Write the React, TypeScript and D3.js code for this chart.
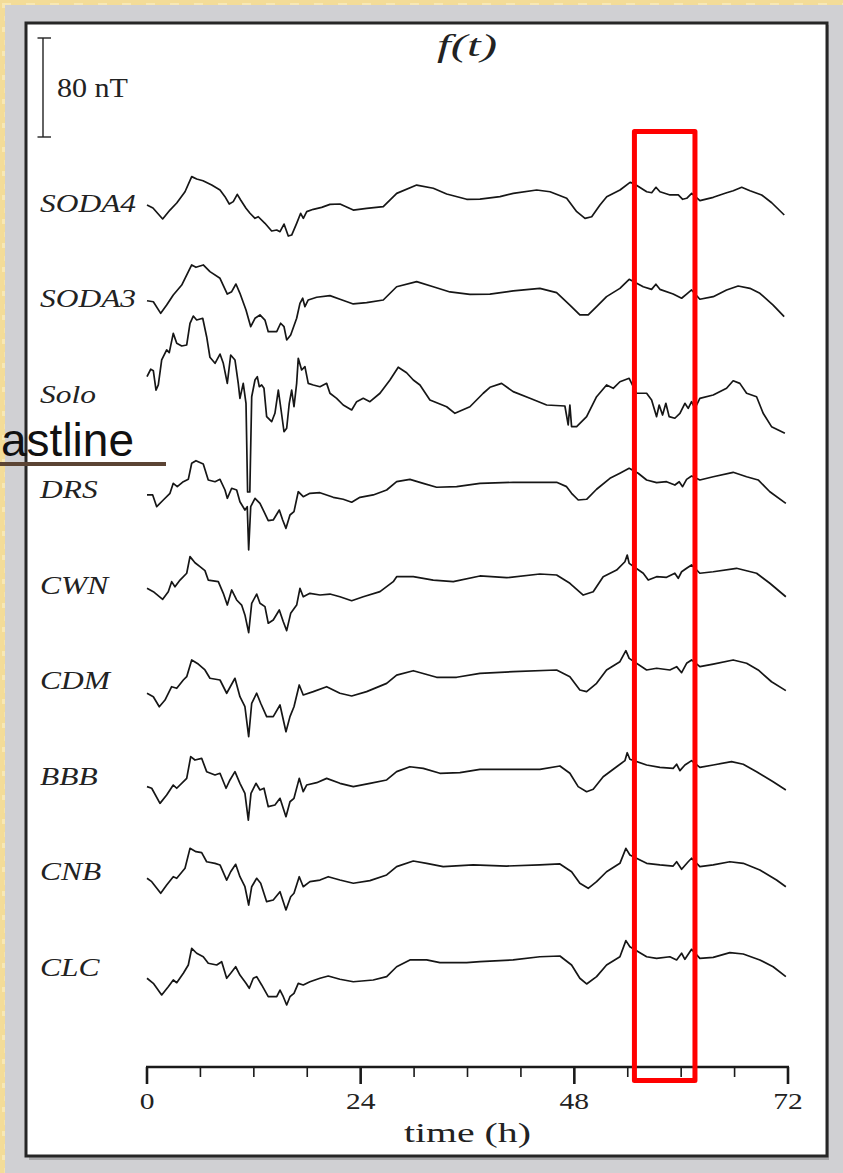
import React from "react";
import * as d3 from "d3";

type Pt = [number, number]; // [hours, nT]

// Station names, top to bottom
const stations = ["SODA4", "SODA3", "Solo", "DRS", "CWN", "CDM", "BBB", "CNB", "CLC"];

const soda4: Pt[] = [[0,-1.6],[0.67,-4],[1.76,-12.9],[2.58,-5.7],[3.34,0],[4.27,9.1],[5.02,21.3],[5.58,19.4],[6.29,18],[7.27,14.5],[8.2,10.5],[8.76,5.1],[9.24,-0.8],[9.69,1.1],[10.14,7],[10.52,2.4],[11.12,-4.3],[11.57,-8.3],[12.13,-12.4],[12.5,-11.1],[13.25,-16.4],[14,-22.6],[14.57,-21.8],[14.94,-23.2],[15.39,-17],[15.87,-26.7],[16.25,-25.9],[16.81,-16.4],[17.26,-8.3],[17.56,-12.4],[17.94,-7],[18.68,-5.1],[19.62,-3.5],[20.55,-1.1],[21.68,-0.8],[23.17,-5.7],[24.68,-4.3],[26.54,-3],[28.05,7.8],[30.29,14.5],[32.16,11.9],[33.66,7.3],[35.91,3],[37.4,3.2],[39.65,5.1],[41.14,7.8],[43.77,10.5],[45.27,9.1],[47.14,3.8],[48.27,-7],[49.2,-12.4],[49.95,-11.1],[50.88,-1.6],[51.64,5.1],[53.13,10.5],[54.26,16.7],[54.62,15.9],[56.13,9.1],[56.69,8.3],[57.17,12.7],[57.62,9.1],[58.75,6.5],[59.68,6.5],[60.17,3],[60.62,3.8],[61.18,7.8],[62.11,1.9],[63.61,4.6],[65.11,8.3],[65.85,9.9],[66.8,12.7],[67.73,9.9],[69.04,6.5],[70.17,0.2],[71.58,-9.7]];

const soda3: Pt[] = [[0,-1.8],[0.71,-2.6],[1.54,-12],[2.21,-5.3],[2.95,2.8],[3.9,10.9],[5.02,27.1],[5.5,25.2],[6.32,27.1],[7.07,21.7],[8.2,16.3],[9.02,3.6],[9.51,5.5],[9.99,11.7],[10.44,4.2],[11.12,-9.3],[11.65,-22.8],[12.13,-16],[12.69,-13.3],[13.25,-17.4],[13.62,-26.8],[14.57,-26.8],[15.01,-20],[15.39,-22.8],[15.69,-33.5],[16.14,-29.5],[16.81,-16],[17.18,-3.9],[17.49,0.2],[17.74,-6.6],[18.11,-1.2],[19.06,1],[20.55,2.3],[21.68,-0.6],[23.17,-4.4],[24.67,-3.4],[26.54,-1.2],[28.04,9.5],[30.29,13.6],[32.15,9.5],[34.03,5.3],[36.27,3.4],[38.52,3.6],[41.14,6.1],[44.13,8.2],[46.01,4.7],[47.5,-5.3],[48.62,-13.3],[49.56,-13.3],[50.5,-6.6],[51.62,1.5],[53.12,8.2],[54.16,15.5],[55.74,9.5],[56.68,7.4],[57.16,11.5],[57.61,7.4],[59.1,3.6],[60.05,0.2],[60.61,3.6],[61.17,6.9],[62.1,-0.6],[63.6,1.5],[65.1,6.9],[66.4,10.1],[67.72,8.2],[68.84,4.2],[70.33,-5.3],[71.57,-14.7]];

const solo: Pt[] = [[0,14],[0.42,20],[0.71,18.8],[1.01,3.2],[1.27,7.3],[1.65,27.5],[2.21,35.6],[2.5,33.4],[2.95,49],[3.34,41],[3.9,38.8],[4.46,39.6],[4.83,57.1],[5.2,63],[5.58,59.8],[6.26,61.2],[6.7,46.3],[7.07,29.7],[7.64,24.8],[8.2,32.3],[8.57,24.8],[9.02,8.6],[9.4,31.5],[9.88,27.5],[10.25,8.6],[10.44,-3.5],[10.81,8.6],[11.12,-7.5],[11.3,-79.2],[11.55,-79.2],[11.76,-2.2],[12.13,11.3],[12.39,14],[12.61,5.9],[12.88,7.3],[13.14,4.6],[13.44,-18.3],[14,-22.4],[14.37,-15.6],[14.75,3.2],[15.01,-10.3],[15.39,-30.5],[15.69,-27.7],[15.98,-7.5],[16.25,3.2],[16.51,-10.3],[16.81,8.6],[16.99,28.8],[17.37,19.4],[17.74,22.1],[18.11,8.6],[18.68,7.3],[19.43,5.9],[20.18,8.6],[20.55,0.6],[21.3,-3.5],[22.04,-8.9],[22.99,-12.9],[23.55,-6.2],[24.29,-3.5],[25.04,-6.2],[26.17,0.6],[27.29,11.3],[28.22,21.6],[29.16,17.2],[29.91,11.3],[30.66,7.3],[31.78,-4.8],[33.66,-10.3],[34.59,-15.6],[36.27,-10.3],[37.77,0.6],[38.52,5.4],[39.83,8.6],[41.13,1.9],[43.01,-3.5],[44.89,-8.9],[46.94,-9.7],[47.31,-25],[47.5,-8.9],[47.69,-26.4],[48.26,-26.4],[49.38,-18.3],[50.5,-2.2],[51.62,7.3],[52.37,4.6],[53.12,9.9],[54.16,12.7],[54.99,0.6],[56.12,0.6],[56.68,-4.8],[57.24,-18.3],[57.53,-8.9],[57.91,-17],[58.28,-7.5],[58.65,-18.3],[59.29,-19.6],[59.86,-15.6],[60.42,-7.5],[60.79,-11.6],[61.17,-6.2],[61.54,-11.6],[62.1,-3.5],[63.6,-0.8],[65.1,4.6],[65.84,10.7],[66.59,8.6],[67.35,0.6],[68.47,-2.2],[69.21,-15.6],[70.15,-26.4],[70.9,-29.1],[71.65,-31.7]];

const drs: Pt[] = [[0,-4.4],[0.64,-4.4],[1.09,-13.9],[1.83,-8.5],[2.58,-3.1],[2.95,5],[3.4,2.3],[4.08,6.3],[4.64,8.2],[5.02,21.2],[5.5,23.3],[6.32,20.6],[6.88,7.7],[7.64,6.3],[8.2,8.2],[8.76,-0.4],[9.02,-7.1],[9.51,1],[10.07,-0.4],[10.44,-9.9],[11,-16.6],[11.26,-13.9],[11.42,-48.9],[11.65,-13.9],[12.13,-7.1],[12.69,-11.2],[13.14,-17.9],[13.62,-25.2],[14.18,-24.6],[14.86,-16.6],[15.24,-24.6],[15.61,-31.4],[16.06,-20.6],[16.51,-17.9],[16.99,-1.8],[17.55,-5.8],[18.3,-3.1],[19.43,-2.6],[20.92,-6.3],[22.04,-7.9],[22.99,-10.3],[23.92,-6.3],[25.41,-4.4],[26.92,-0.4],[28.04,6.3],[29.53,8.2],[31.03,5],[32.53,1.8],[34.78,2.3],[37.4,5],[41.13,5.8],[46.01,5.8],[47.13,2.3],[47.69,-3.1],[48.44,-8.5],[49.38,-7.9],[50.5,0.2],[52,9],[53.12,13.1],[54.16,17.1],[55.17,13.1],[56.12,7.7],[57.24,5.5],[58.36,6.3],[59.29,3.6],[59.78,6.3],[60.16,2.3],[60.61,8.2],[61.17,10.9],[62.1,7.7],[63.6,10.3],[65.84,13.9],[67.35,10.3],[68.65,7.7],[69.96,-1.8],[71.76,-11.2]];

const cwn: Pt[] = [[0,-2.7],[0.71,-5.4],[1.76,-11.6],[2.39,-5.4],[2.77,2.7],[3.14,-1.4],[3.71,4],[4.46,9.5],[4.83,22.9],[5.39,18],[5.95,14.8],[6.51,11.6],[6.88,4],[8.01,2.7],[8.57,-6.7],[9.02,-16.2],[9.51,-4],[10.07,-12.1],[10.63,-16.2],[11,-24.2],[11.42,-38.5],[11.76,-14.8],[12.32,-7.3],[12.69,-14.8],[13.25,-17.5],[13.62,-30.9],[14.18,-28.3],[14.86,-20.2],[15.31,-29.7],[15.69,-36.9],[16.14,-22.9],[16.81,-16.2],[17.18,-2.7],[17.55,-9.5],[18.3,-6.7],[19.43,-8.1],[20.55,-7.3],[21.67,-9.5],[22.99,-12.7],[24.29,-9.5],[26.17,-5.4],[27.66,2.7],[28.04,6.7],[29.91,6.7],[32.15,4],[34.4,2.7],[37.4,7.3],[40.39,5.9],[44.13,8.9],[46.01,8.1],[47.5,1.4],[49,-8.1],[50.12,-5.4],[51.24,6.7],[52.75,12.1],[53.68,18.8],[53.94,24.2],[54.16,17.5],[55.74,9.5],[56.3,4],[57.24,6.7],[58.36,6.2],[59.29,9.5],[59.67,5.4],[60.05,10.7],[60.61,13.5],[61.17,16.2],[62.1,9.5],[63.6,10.7],[66.22,13.5],[68.47,9.5],[69.96,1.4],[71.76,-9.5]];

const cdm: Pt[] = [[0,-10.3],[0.71,-13.1],[1.38,-21.2],[2.02,-15.8],[2.77,-5],[3.34,-6.3],[4.08,0.4],[4.46,3.1],[5.02,16.6],[5.76,13.3],[6.51,8.5],[7.07,1.8],[8.2,0.4],[8.95,-10.3],[9.88,1.8],[10.44,-13.1],[11,-21.2],[11.42,-45.4],[11.76,-18.4],[12.32,-10.3],[12.77,-18.4],[13.44,-29.2],[14.18,-29.2],[14.94,-19.8],[15.61,-41.4],[16.06,-29.2],[16.51,-21.2],[17.1,-3.6],[17.55,-11.7],[18.68,-9],[20.18,-5],[21.67,-10.3],[22.99,-12.5],[24.67,-9],[26.92,-2.3],[28.04,4.4],[29.91,7.9],[32.53,2.6],[34.78,2.6],[37.4,5.8],[41.13,7.1],[46.01,8.5],[47.5,3.1],[48.62,-7.7],[49.38,-9],[50.5,-2.3],[51.62,8.5],[53.12,15.2],[53.79,24.1],[54.16,17.9],[56.12,8.5],[57.24,9.9],[58.73,8.5],[59.49,11.2],[60.05,6.3],[60.61,13.9],[61.17,16.6],[62.1,11.2],[63.6,13.3],[65.84,16.6],[67.35,13.9],[68.65,8.5],[70.15,-1],[71.76,-8.2]];

const bbb: Pt[] = [[0,-8.6],[0.53,-9.9],[1.46,-22.1],[2.21,-15.4],[2.95,-7.3],[3.34,-9.9],[4.46,-1.9],[4.91,15.6],[5.39,12.9],[6.14,14.3],[6.7,3.5],[7.64,0.8],[8.2,2.2],[8.88,-9.9],[9.32,-3.2],[9.88,3.5],[10.44,-5.9],[11,-14],[11.38,-35.6],[11.68,-14],[12.24,-5.9],[12.69,-11.3],[13.14,-9.9],[13.62,-24.8],[14.37,-23.4],[14.94,-18],[15.61,-32.9],[16.06,-20.8],[16.51,-18],[17.1,-1.9],[17.55,-12.7],[17.93,-7.3],[19.06,-5.4],[20.18,-1.9],[21.67,-5.9],[23.17,-8.6],[25.04,-5.9],[26.92,-3.2],[28.04,3.5],[29.53,7.5],[31.03,6.2],[32.9,2.2],[35.15,2.7],[37.4,5.4],[41.13,5.4],[44.13,5.4],[46.38,8.1],[47.5,2.2],[48.43,-8.6],[49.38,-12.7],[50.12,-10.7],[51.24,-0.6],[52.75,7.5],[53.68,12.4],[53.94,18.8],[54.24,13.5],[56.12,8.9],[57.61,7],[59.1,6.2],[59.49,9.5],[59.86,4.3],[60.42,8.9],[61.17,12.4],[62.1,7],[63.6,8.9],[65.66,11.6],[66.97,9.5],[68.47,3.5],[70.33,-4.6],[71.76,-11.3]];

const cnb: Pt[] = [[0,-5.5],[0.53,-8.2],[1.54,-17.6],[2.21,-10.9],[2.95,-4.2],[3.34,-5.5],[4.27,2.6],[4.83,18.7],[5.5,16],[6.14,15.2],[6.7,7.9],[7.64,6.6],[8.2,5.3],[8.95,-6.9],[9.4,-0.2],[9.96,5.8],[10.44,-4.2],[11,-12.3],[11.42,-27.1],[11.76,-12.3],[12.32,-5.5],[12.77,-9.5],[13.44,-24.4],[14.18,-23],[14.94,-16.3],[15.61,-31.1],[16.14,-20.4],[16.51,-17.6],[17.1,-4.2],[17.55,-12.3],[18.3,-8.2],[19.43,-6.9],[20.36,-4.2],[21.67,-6.9],[23.17,-9.5],[25.04,-7.4],[26.92,-2.8],[28.04,3.9],[29.91,8.5],[31.41,6.6],[33.27,3.9],[36.64,5.3],[40.39,4.4],[44.13,5.3],[46.38,6.1],[47.69,-0.2],[48.62,-9.5],[49.56,-13.6],[50.5,-8.2],[51.62,-0.2],[53.12,6.6],[53.79,18.7],[54.24,13.3],[56.12,6.6],[57.61,5.3],[59.1,4.4],[59.49,7.9],[60.05,1.8],[60.79,7.9],[61.17,10.7],[62.1,3.9],[63.6,5.3],[65.47,7.9],[66.97,6.6],[68.84,1.2],[70.71,-6.9],[71.76,-12.3]];

const clc: Pt[] = [[0,-9.1],[0.71,-13.2],[1.65,-22.6],[2.39,-15.9],[2.95,-10.5],[3.34,-12.7],[4.08,-5.1],[4.64,1.6],[5.02,15.1],[5.58,11.1],[6.32,8.3],[6.88,3],[7.83,1.6],[8.39,4.3],[8.95,-9.1],[9.4,-5.1],[9.96,0.2],[10.44,-6.5],[11.12,-13.2],[11.49,-17.2],[11.94,-9.1],[12.32,-7.8],[12.88,-14.5],[13.62,-24],[14.57,-24],[14.94,-18.6],[15.31,-24],[15.69,-30.7],[16.06,-24],[16.51,-21.3],[16.99,-13.2],[17.55,-14.5],[18.3,-11.9],[19.43,-9.1],[20.36,-7.3],[21.67,-9.9],[23.17,-11.9],[25.41,-10.5],[26.92,-7.8],[28.04,0.2],[29.53,5.7],[31.41,5.7],[32.9,3.5],[35.9,3.5],[37.4,4.3],[41.13,5.7],[44.13,8.3],[46.38,8.9],[47.69,1.6],[48.62,-9.1],[49.38,-13.7],[50.5,-7.8],[51.62,1.6],[53.12,8.3],[53.79,21.3],[54.24,16.4],[56.12,8.3],[57.24,7],[58.73,8.3],[59.49,5.7],[60.05,11.1],[60.42,6.2],[61.17,14.3],[62.1,7],[63.6,7.8],[65.47,11.6],[66.97,10.5],[68.84,5.7],[70.33,0.2],[71.76,-7.8]];

const series: Pt[][] = [soda4, soda3, solo, drs, cwn, cdm, bbb, cnb, clc];

// Time axis
const tickHours = d3.range(0, 73, 6);
const tickLabels = [0, 24, 48, 72];
const scaleBarNT = 80;

// Highlighted time window
const windowHours: [number, number] = [54.75, 61.55];

const W = 843;
const H = 1173;
const SERIF = "'Liberation Serif', 'Times New Roman', Times, serif";
const SANS = "'Liberation Sans', Arial, Helvetica, sans-serif";

export default function App() {
  const x = d3.scaleLinear().domain([0, 72]).range([147, 788]);
  const amp = d3.scaleLinear().domain([0, scaleBarNT]).range([0, 99]);
  const firstBase = 203;
  const step = 95.5;
  const axisY = 1067;

  const paths = series.map((s, i) => {
    const base = firstBase + step * i;
    const line = d3
      .line<Pt>()
      .x((d) => x(d[0]))
      .y((d) => base - amp(d[1]))
      .curve(d3.curveLinear);
    return line(s) || "";
  });

  const barTop = 38;
  const barBottom = barTop + amp(scaleBarNT);

  return (
    <svg
      width={W}
      height={H}
      viewBox={`0 0 ${W} ${H}`}
      style={{ position: "absolute", left: 0, top: 0, display: "block" }}
    >
      <defs>
        <pattern id="parch" width="24" height="24" patternUnits="userSpaceOnUse">
          <rect width="24" height="24" fill="#f3dc98" />
          <rect x="2" y="3" width="9" height="5" fill="#f8e8b4" />
          <rect x="13" y="12" width="8" height="6" fill="#eccd7e" />
          <rect x="4" y="16" width="6" height="5" fill="#f6e3a8" />
        </pattern>
      </defs>

      {/* slide background and frame */}
      <rect x={0} y={0} width={W} height={H} fill="url(#parch)" />
      <rect x={5} y={5} width={W - 5} height={H - 5} fill="#d0d0d3" />

      {/* figure panel */}
      <rect x={29} y={25} width={800} height={1135} fill="#5a5a5a" opacity={0.35} />
      <rect x={26} y={23} width={801} height={1133} fill="#ffffff" stroke="#262626" strokeWidth={3} />

      {/* scale bar */}
      <g stroke="#222" strokeWidth={1.4}>
        <line x1={43} x2={43} y1={barTop} y2={barBottom} />
        <line x1={37.5} x2={51} y1={barTop} y2={barTop} />
        <line x1={37.5} x2={51} y1={barBottom} y2={barBottom} />
      </g>
      <text x={57} y={97} fontFamily={SERIF} fontSize={28} fill="#222" textLength={71} lengthAdjust="spacingAndGlyphs">
        {scaleBarNT} nT
      </text>

      {/* title */}
      <text x={437} y={56} fontFamily={SERIF} fontStyle="italic" fontSize={32} fill="#222" textLength={60} lengthAdjust="spacingAndGlyphs">
        f(t)
      </text>

      {/* traces */}
      <g fill="none" stroke="#161616" strokeWidth={1.7} strokeLinejoin="round">
        {paths.map((p, i) => (
          <path key={stations[i]} d={p} />
        ))}
      </g>

      {/* station labels */}
      {stations.map((s, i) => (
        <text
          key={s}
          transform={`translate(40,${firstBase + step * i + 8.5}) scale(1.21,1)`}
          fontFamily={SERIF}
          fontStyle="italic"
          fontSize={26}
          fill="#222"
        >
          {s}
        </text>
      ))}

      {/* time axis */}
      <g stroke="#1a1a1a">
        <line x1={x(0) - 1} x2={x(72) + 1} y1={axisY} y2={axisY} strokeWidth={2.6} />
        {tickHours.map((h) => {
          const major = h % 24 === 0;
          return (
            <line
              key={h}
              x1={x(h)}
              x2={x(h)}
              y1={axisY}
              y2={axisY + (major ? 17 : 10)}
              strokeWidth={major ? 2.6 : 1.6}
            />
          );
        })}
      </g>
      {tickLabels.map((h) => (
        <text
          key={h}
          transform={`translate(${x(h)},1109) scale(1.23,1)`}
          textAnchor="middle"
          fontFamily={SERIF}
          fontSize={24}
          fill="#222"
        >
          {h}
        </text>
      ))}
      <text x={404} y={1142} fontFamily={SERIF} fontSize={28} fill="#222" textLength={127} lengthAdjust="spacingAndGlyphs">
        time (h)
      </text>

      {/* highlighted window */}
      <rect
        x={x(windowHours[0])}
        y={131.5}
        width={x(windowHours[1]) - x(windowHours[0])}
        height={949}
        fill="none"
        stroke="#ff0000"
        strokeWidth={5}
        strokeLinejoin="round"
      />

      {/* coastline label */}
      <text x={134} y={456} textAnchor="end" fontFamily={SANS} fontSize={46} fill="#111">
        Coastline
      </text>
      <line x1={0} x2={166} y1={464} y2={464} stroke="#5b4434" strokeWidth={4} />
    </svg>
  );
}
